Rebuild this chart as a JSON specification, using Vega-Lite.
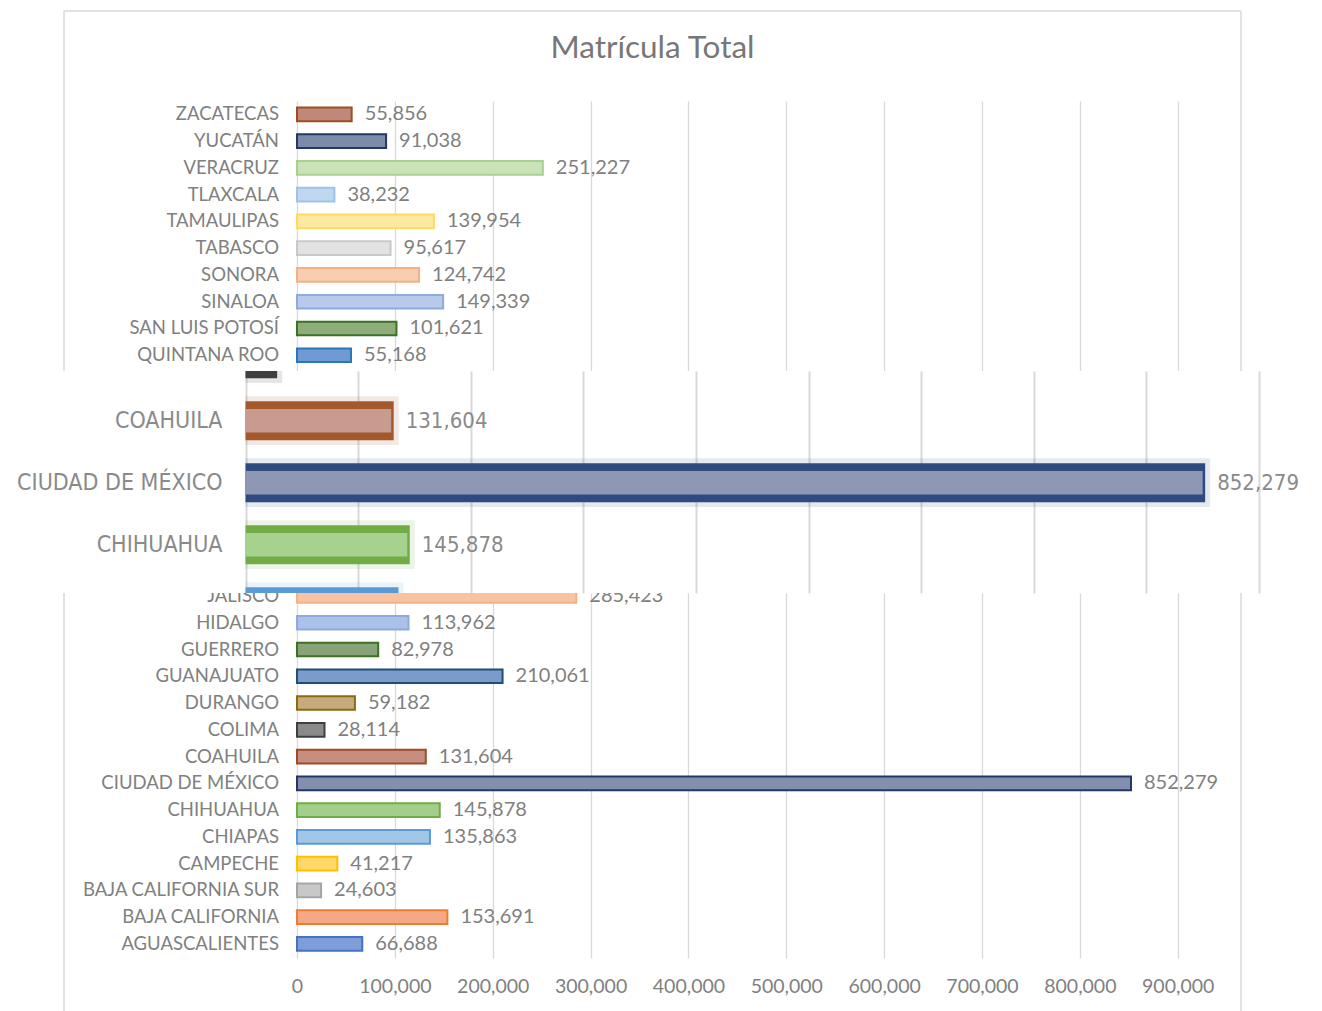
{
  "$schema": "https://vega.github.io/schema/vega-lite/v6.json",
  "background": "white",
  "padding": {"left": 0, "top": 10, "right": 10, "bottom": 0},
  "spacing": 0,
  "bounds": "flush",
  "center": true,
  "config": {"view": {"stroke": null}, "font": "Lato"},
  "resolve": {"scale": {"fill": "independent", "stroke": "independent", "color": "independent"}},
  "datasets": {
    "matricula": [
      {"estado": "ZACATECAS", "matricula": 55856},
      {"estado": "YUCATÁN", "matricula": 91038},
      {"estado": "VERACRUZ", "matricula": 251227},
      {"estado": "TLAXCALA", "matricula": 38232},
      {"estado": "TAMAULIPAS", "matricula": 139954},
      {"estado": "TABASCO", "matricula": 95617},
      {"estado": "SONORA", "matricula": 124742},
      {"estado": "SINALOA", "matricula": 149339},
      {"estado": "SAN LUIS POTOSÍ", "matricula": 101621},
      {"estado": "QUINTANA ROO", "matricula": 55168},
      {"estado": "JALISCO", "matricula": 285423},
      {"estado": "HIDALGO", "matricula": 113962},
      {"estado": "GUERRERO", "matricula": 82978},
      {"estado": "GUANAJUATO", "matricula": 210061},
      {"estado": "DURANGO", "matricula": 59182},
      {"estado": "COLIMA", "matricula": 28114},
      {"estado": "COAHUILA", "matricula": 131604},
      {"estado": "CIUDAD DE MÉXICO", "matricula": 852279},
      {"estado": "CHIHUAHUA", "matricula": 145878},
      {"estado": "CHIAPAS", "matricula": 135863},
      {"estado": "CAMPECHE", "matricula": 41217},
      {"estado": "BAJA CALIFORNIA SUR", "matricula": 24603},
      {"estado": "BAJA CALIFORNIA", "matricula": 153691},
      {"estado": "AGUASCALIENTES", "matricula": 66688}
    ]
  },
  "vconcat": [
    {
      "width": 1177,
      "height": 270,
      "title": {"text": "Matrícula Total", "fontSize": 31.5, "fontWeight": "normal", "color": "#777777", "font": "Lato", "offset": -79, "baseline": "alphabetic", "anchor": "middle"},
      "data": {"name": "matricula"},
      "transform": [{"filter": {"field": "estado", "oneOf": ["ZACATECAS", "YUCATÁN", "VERACRUZ", "TLAXCALA", "TAMAULIPAS", "TABASCO", "SONORA", "SINALOA", "SAN LUIS POTOSÍ", "QUINTANA ROO"]}}],
      "encoding": {
        "y": {"field": "estado", "type": "nominal", "axis": null,
              "scale": {"domain": ["ZACATECAS", "YUCATÁN", "VERACRUZ", "TLAXCALA", "TAMAULIPAS", "TABASCO", "SONORA", "SINALOA", "SAN LUIS POTOSÍ", "QUINTANA ROO"], "range": [0, 267.6], "paddingInner": 0.49, "paddingOuter": 0.245}},
        "x": {"field": "matricula", "type": "quantitative",
              "scale": {"domain": [0, 900000], "range": [233, 1113.7], "nice": false},
              "axis": {"values": [0, 100000, 200000, 300000, 400000, 500000, 600000, 700000, 800000, 900000], "grid": false, "ticks": true, "tickSize": -270, "tickColor": "#D9D9D9", "tickWidth": 1.3, "labels": false, "domain": false, "title": null}}
      },
      "layer": [
        {
          "mark": {"type": "bar", "strokeWidth": 2},
          "encoding": {
            "fill": {"field": "estado", "type": "nominal", "legend": null,
                     "scale": {"domain": ["ZACATECAS", "YUCATÁN", "VERACRUZ", "TLAXCALA", "TAMAULIPAS", "TABASCO", "SONORA", "SINALOA", "SAN LUIS POTOSÍ", "QUINTANA ROO"],
                               "range": ["#C08878", "#7D8BAA", "#C9E2B8", "#C0D8EF", "#FFE8A0", "#E2E2E2", "#F9CDB0", "#B8CAEA", "#8DAE78", "#6E9BD3"]}},
            "stroke": {"field": "estado", "type": "nominal", "legend": null,
                       "scale": {"domain": ["ZACATECAS", "YUCATÁN", "VERACRUZ", "TLAXCALA", "TAMAULIPAS", "TABASCO", "SONORA", "SINALOA", "SAN LUIS POTOSÍ", "QUINTANA ROO"],
                                 "range": ["#9E4D22", "#233864", "#A9D18E", "#9DC3E6", "#FFD966", "#C9C9C9", "#F4B183", "#8FAADC", "#3E7025", "#2E75B6"]}}
          }
        },
        {
          "mark": {"type": "text", "align": "left", "baseline": "middle", "dx": 13, "fontSize": 20, "color": "#808080"},
          "encoding": {"text": {"field": "matricula", "format": ","}}
        },
        {
          "mark": {"type": "text", "align": "right", "baseline": "middle", "dx": -18, "fontSize": 18.5, "color": "#808080"},
          "encoding": {"x": {"datum": 0}, "text": {"field": "estado"}}
        },
        {
          "transform": [{"filter": {"field": "estado", "equal": "ZACATECAS"}}],
          "mark": {"type": "rule", "color": "#D9D9D9", "strokeWidth": 1.5, "yOffset": -103.4, "y2Offset": 15.8},
          "encoding": {"x": {"datum": -238105}, "y": {"datum": "ZACATECAS"}, "y2": {"datum": "QUINTANA ROO"}}
        },
        {
          "transform": [{"filter": {"field": "estado", "equal": "ZACATECAS"}}],
          "mark": {"type": "rule", "color": "#D9D9D9", "strokeWidth": 1.5, "yOffset": -103.4, "y2Offset": 15.8},
          "encoding": {"x": {"datum": 964683}, "y": {"datum": "ZACATECAS"}, "y2": {"datum": "QUINTANA ROO"}}
        },
        {
          "transform": [{"filter": {"field": "estado", "equal": "ZACATECAS"}}],
          "mark": {"type": "rule", "color": "#D9D9D9", "strokeWidth": 1.5, "yOffset": -103.4},
          "encoding": {"x": {"datum": -238105}, "x2": {"datum": 964683}, "y": {"datum": "ZACATECAS"}}
        }
      ]
    },
    {
      "width": 1305,
      "height": 222,
      "view": {"fill": "white", "stroke": null},
      "data": {"name": "matricula"},
      "transform": [{"filter": {"field": "estado", "oneOf": ["COLIMA", "COAHUILA", "CIUDAD DE MÉXICO", "CHIHUAHUA", "CHIAPAS"]}}],
      "encoding": {
        "y": {"field": "estado", "type": "nominal", "axis": null,
              "scale": {"domain": ["COLIMA", "COAHUILA", "CIUDAD DE MÉXICO", "CHIHUAHUA", "CHIAPAS"], "range": [-43.3, 266.7], "paddingInner": 0.37, "paddingOuter": 0.185}},
        "x": {"field": "matricula", "type": "quantitative",
              "scale": {"domain": [0, 900000], "range": [245.5, 1258.9], "nice": false},
              "axis": {"values": [0, 100000, 200000, 300000, 400000, 500000, 600000, 700000, 800000, 900000], "grid": false, "ticks": true, "tickSize": -222, "tickColor": "#D9D9D9", "tickWidth": 2, "labels": false, "domain": false, "title": null}}
      },
      "layer": [
        {
          "mark": {"type": "bar", "height": {"band": 1.25}, "opacity": 0.13, "xOffset": 5, "clip": true},
          "encoding": {
            "x2": {"datum": 0},
            "color": {"field": "estado", "type": "nominal", "legend": null,
                      "scale": {"domain": ["COLIMA", "COAHUILA", "CIUDAD DE MÉXICO", "CHIHUAHUA", "CHIAPAS"], "range": ["#3F3F3F", "#A5582C", "#2F4A80", "#70AD47", "#5B9BD5"]}}
          }
        },
        {
          "mark": {"type": "bar", "clip": true},
          "encoding": {
            "x2": {"datum": 0},
            "color": {"field": "estado", "type": "nominal", "legend": null,
                      "scale": {"domain": ["COLIMA", "COAHUILA", "CIUDAD DE MÉXICO", "CHIHUAHUA", "CHIAPAS"], "range": ["#3F3F3F", "#A5582C", "#2F4A80", "#70AD47", "#5B9BD5"]}}
          }
        },
        {
          "mark": {"type": "bar", "height": {"band": 0.6}, "xOffset": -2.5, "clip": true},
          "encoding": {
            "x2": {"datum": 0},
            "fill": {"field": "estado", "type": "nominal", "legend": null,
                     "scale": {"domain": ["COLIMA", "COAHUILA", "CIUDAD DE MÉXICO", "CHIHUAHUA", "CHIAPAS"], "range": ["#8A8A8A", "#C79B90", "#8E98B4", "#A6D18E", "#A6C8EA"]}}
          }
        },
        {
          "mark": {"type": "text", "align": "left", "baseline": "middle", "dx": 12, "fontSize": 22, "color": "#8A8A8A", "clip": true, "font": "Liberation Sans Narrow, DejaVu Sans Condensed, Roboto Condensed, Arial Narrow, Roboto"},
          "encoding": {"text": {"field": "matricula", "format": ","}}
        },
        {
          "mark": {"type": "text", "align": "right", "baseline": "middle", "dx": -23, "fontSize": 23, "color": "#8A8A8A", "clip": true, "font": "Liberation Sans Narrow, DejaVu Sans Condensed, Roboto Condensed, Arial Narrow, Roboto"},
          "encoding": {"x": {"datum": 0}, "text": {"field": "estado"}}
        }
      ]
    },
    {
      "width": 1177,
      "height": 365,
      "data": {"name": "matricula"},
      "transform": [{"filter": {"field": "estado", "oneOf": ["JALISCO", "HIDALGO", "GUERRERO", "GUANAJUATO", "DURANGO", "COLIMA", "COAHUILA", "CIUDAD DE MÉXICO", "CHIHUAHUA", "CHIAPAS", "CAMPECHE", "BAJA CALIFORNIA SUR", "BAJA CALIFORNIA", "AGUASCALIENTES"]}}],
      "encoding": {
        "y": {"field": "estado", "type": "nominal", "axis": null,
              "scale": {"domain": ["JALISCO", "HIDALGO", "GUERRERO", "GUANAJUATO", "DURANGO", "COLIMA", "COAHUILA", "CIUDAD DE MÉXICO", "CHIHUAHUA", "CHIAPAS", "CAMPECHE", "BAJA CALIFORNIA SUR", "BAJA CALIFORNIA", "AGUASCALIENTES"], "range": [-10.4, 364.3], "paddingInner": 0.49, "paddingOuter": 0.245}},
        "x": {"field": "matricula", "type": "quantitative",
              "scale": {"domain": [0, 900000], "range": [233, 1113.7], "nice": false},
              "axis": {"values": [0, 100000, 200000, 300000, 400000, 500000, 600000, 700000, 800000, 900000], "labelExpr": "format(datum.value, ',')", "labelFlush": false, "grid": false, "ticks": true, "tickSize": -365, "tickColor": "#D9D9D9", "tickWidth": 1.3, "domain": false, "title": null, "labelFontSize": 19.5, "labelColor": "#808080", "labelFont": "Lato", "labelBaseline": "middle", "labelPadding": 393}}
      },
      "layer": [
        {
          "mark": {"type": "bar", "strokeWidth": 2, "clip": true},
          "encoding": {
            "fill": {"field": "estado", "type": "nominal", "legend": null,
                     "scale": {"domain": ["JALISCO", "HIDALGO", "GUERRERO", "GUANAJUATO", "DURANGO", "COLIMA", "COAHUILA", "CIUDAD DE MÉXICO", "CHIHUAHUA", "CHIAPAS", "CAMPECHE", "BAJA CALIFORNIA SUR", "BAJA CALIFORNIA", "AGUASCALIENTES"],
                               "range": ["#F9C3A3", "#ACC1EA", "#87A477", "#7B9CCB", "#C7AA7E", "#8A8A8A", "#C58E80", "#8390AD", "#A3CF8B", "#A2C6E8", "#FFD866", "#C8C8C8", "#F5A886", "#7F9DD8"]}},
            "stroke": {"field": "estado", "type": "nominal", "legend": null,
                       "scale": {"domain": ["JALISCO", "HIDALGO", "GUERRERO", "GUANAJUATO", "DURANGO", "COLIMA", "COAHUILA", "CIUDAD DE MÉXICO", "CHIHUAHUA", "CHIAPAS", "CAMPECHE", "BAJA CALIFORNIA SUR", "BAJA CALIFORNIA", "AGUASCALIENTES"],
                                 "range": ["#F4B183", "#8FAADC", "#3E7025", "#1F4E79", "#8C6A0E", "#3F3F3F", "#9E4D22", "#233864", "#70AD47", "#5B9BD5", "#FFC000", "#A5A5A5", "#ED7D31", "#4472C4"]}}
          }
        },
        {
          "mark": {"type": "text", "align": "left", "baseline": "middle", "dx": 13, "fontSize": 20, "color": "#808080", "clip": true},
          "encoding": {"text": {"field": "matricula", "format": ","}}
        },
        {
          "mark": {"type": "text", "align": "right", "baseline": "middle", "dx": -18, "fontSize": 18.5, "color": "#808080", "clip": true},
          "encoding": {"x": {"datum": 0}, "text": {"field": "estado"}}
        },
        {
          "transform": [{"filter": {"field": "estado", "equal": "JALISCO"}}],
          "mark": {"type": "rule", "color": "#D9D9D9", "strokeWidth": 1.5, "yOffset": -2.98, "y2Offset": 69.1},
          "encoding": {"x": {"datum": -238105}, "y": {"datum": "JALISCO"}, "y2": {"datum": "AGUASCALIENTES"}}
        },
        {
          "transform": [{"filter": {"field": "estado", "equal": "JALISCO"}}],
          "mark": {"type": "rule", "color": "#D9D9D9", "strokeWidth": 1.5, "yOffset": -2.98, "y2Offset": 69.1},
          "encoding": {"x": {"datum": 964683}, "y": {"datum": "JALISCO"}, "y2": {"datum": "AGUASCALIENTES"}}
        }
      ]
    }
  ]
}
